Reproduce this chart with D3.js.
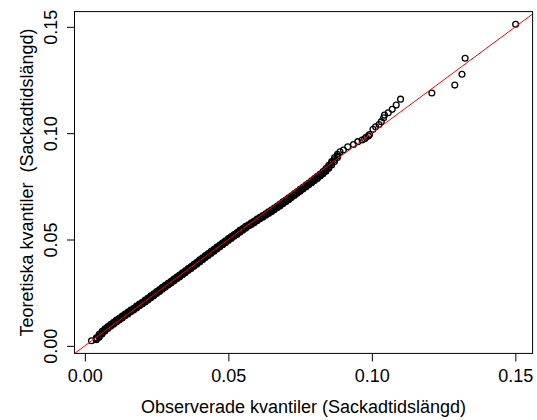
<!DOCTYPE html>
<html>
<head>
<meta charset="utf-8">
<script src="https://cdn.jsdelivr.net/npm/d3@7"></script>
<style>
  html, body { margin: 0; padding: 0; background: #fff; }
  svg { display: block; }
  text { font-family: "Liberation Sans", Arial, sans-serif; fill: #000; }
</style>
</head>
<body>
<svg id="chart" width="537" height="420"></svg>
<script>
// Saccade durations are recorded in whole milliseconds, so many observations tie.
// Each tied duration forms a short vertical run of theoretical quantiles
// (lowest, median and highest quantile of the run).
const tiedDurations = [
  0.004, 0.005, 0.006, 0.007, 0.008, 0.009, 0.010, 0.011, 0.012, 0.013,
  0.014, 0.015, 0.016, 0.017, 0.018, 0.019, 0.020, 0.021, 0.022, 0.023,
  0.024, 0.025, 0.026, 0.027, 0.028, 0.029, 0.030, 0.031, 0.032, 0.033,
  0.034, 0.035, 0.036, 0.037, 0.038, 0.039, 0.040, 0.041, 0.042, 0.043,
  0.044, 0.045, 0.046, 0.047, 0.048, 0.049, 0.050, 0.051, 0.052, 0.053,
  0.054, 0.055, 0.056, 0.057, 0.058, 0.059, 0.060, 0.061, 0.062, 0.063,
  0.064, 0.065, 0.066, 0.067, 0.068, 0.069, 0.070, 0.071, 0.072, 0.073,
  0.074, 0.075, 0.076, 0.077, 0.078, 0.079, 0.080, 0.081, 0.082, 0.083,
  0.084, 0.085, 0.086, 0.087, 0.088
];
const tiedQuantileLow = [
  0.0029, 0.0040, 0.0056, 0.0070, 0.0082, 0.0092, 0.0102, 0.0112, 0.0122, 0.0131,
  0.0141, 0.0150, 0.0160, 0.0169, 0.0178, 0.0188, 0.0197, 0.0206, 0.0216, 0.0226,
  0.0236, 0.0246, 0.0256, 0.0266, 0.0276, 0.0286, 0.0295, 0.0305, 0.0315, 0.0324,
  0.0334, 0.0344, 0.0354, 0.0364, 0.0374, 0.0384, 0.0394, 0.0405, 0.0415, 0.0425,
  0.0435, 0.0445, 0.0455, 0.0465, 0.0475, 0.0485, 0.0495, 0.0505, 0.0515, 0.0524,
  0.0534, 0.0544, 0.0553, 0.0563, 0.0570, 0.0579, 0.0588, 0.0597, 0.0605, 0.0614,
  0.0622, 0.0631, 0.0640, 0.0649, 0.0658, 0.0668, 0.0678, 0.0687, 0.0697, 0.0707,
  0.0717, 0.0727, 0.0737, 0.0747, 0.0757, 0.0767, 0.0777, 0.0787, 0.0798, 0.0809,
  0.0821, 0.0835, 0.0850, 0.0867, 0.0886
];
const tiedQuantileMid = [
  0.0033, 0.0047, 0.0062, 0.0075, 0.0086, 0.0096, 0.0106, 0.0116, 0.0126, 0.0135,
  0.0145, 0.0154, 0.0164, 0.0173, 0.0182, 0.0192, 0.0201, 0.0210, 0.0220, 0.0230,
  0.0240, 0.0250, 0.0260, 0.0270, 0.0280, 0.0290, 0.0299, 0.0309, 0.0319, 0.0328,
  0.0338, 0.0348, 0.0358, 0.0368, 0.0378, 0.0388, 0.0399, 0.0409, 0.0419, 0.0429,
  0.0439, 0.0449, 0.0459, 0.0469, 0.0479, 0.0489, 0.0499, 0.0509, 0.0519, 0.0528,
  0.0538, 0.0548, 0.0557, 0.0566, 0.0574, 0.0583, 0.0592, 0.0600, 0.0609, 0.0617,
  0.0626, 0.0635, 0.0644, 0.0653, 0.0662, 0.0672, 0.0682, 0.0691, 0.0701, 0.0711,
  0.0721, 0.0731, 0.0741, 0.0751, 0.0761, 0.0771, 0.0781, 0.0792, 0.0803, 0.0814,
  0.0827, 0.0842, 0.0858, 0.0876, 0.0893
];
const tiedQuantileHigh = [
  0.0038, 0.0054, 0.0068, 0.0080, 0.0091, 0.0101, 0.0111, 0.0121, 0.0130, 0.0140,
  0.0149, 0.0159, 0.0168, 0.0177, 0.0187, 0.0196, 0.0205, 0.0215, 0.0225, 0.0235,
  0.0245, 0.0255, 0.0265, 0.0275, 0.0285, 0.0294, 0.0304, 0.0314, 0.0323, 0.0333,
  0.0343, 0.0353, 0.0363, 0.0373, 0.0383, 0.0393, 0.0404, 0.0414, 0.0424, 0.0434,
  0.0444, 0.0454, 0.0464, 0.0474, 0.0484, 0.0494, 0.0504, 0.0514, 0.0523, 0.0533,
  0.0543, 0.0552, 0.0562, 0.0569, 0.0578, 0.0587, 0.0596, 0.0604, 0.0613, 0.0621,
  0.0630, 0.0639, 0.0648, 0.0657, 0.0667, 0.0677, 0.0686, 0.0696, 0.0706, 0.0716,
  0.0726, 0.0736, 0.0746, 0.0756, 0.0766, 0.0776, 0.0786, 0.0797, 0.0808, 0.0820,
  0.0834, 0.0849, 0.0866, 0.0885, 0.0901
];

// Untied observations: the shortest saccade and the long-duration tail.
const singleObserved = [
  0.0023,
  0.0889, 0.0901, 0.0916, 0.0936, 0.0951, 0.0966, 0.0975, 0.0980, 0.0988, 0.0992,
  0.1004, 0.1013, 0.1025, 0.1033, 0.1041, 0.1044, 0.1057, 0.1071, 0.1085, 0.1100,
  0.1209, 0.1289, 0.1314, 0.1325, 0.1501
];
const singleTheoretical = [
  0.0024,
  0.0912, 0.0921, 0.0936, 0.0947, 0.0960, 0.0968, 0.0974, 0.0981, 0.0987, 0.0994,
  0.1018, 0.1030, 0.1041, 0.1054, 0.1072, 0.1085, 0.1096, 0.1112, 0.1132, 0.1160,
  0.1189, 0.1226, 0.1277, 0.1352, 0.1512
];

const xTicks = [0, 0.05, 0.10, 0.15];
const yTicks = [0, 0.05, 0.10, 0.15];
const xTitle = "Observerade kvantiler (Sackadtidslängd)";
const yTitle = "Teoretiska kvantiler  (Sackadtidslängd)";

// Assemble the point list.
const points = [];
tiedDurations.forEach((d, i) => {
  points.push({ x: d, y: tiedQuantileLow[i] });
  points.push({ x: d, y: tiedQuantileMid[i] });
  points.push({ x: d, y: tiedQuantileHigh[i] });
});
singleObserved.forEach((d, i) => points.push({ x: d, y: singleTheoretical[i] }));

const W = 537, H = 420;
const margin = { top: 11.6, right: 4.4, bottom: 66.6, left: 74.5 };
const pw = W - margin.left - margin.right;
const ph = H - margin.top - margin.bottom;

// Axis ranges extended by 4% on each side of the data.
function padded(vals) {
  const [lo, hi] = d3.extent(vals);
  const pad = (hi - lo) * 0.04;
  return [lo - pad, hi + pad];
}
const x = d3.scaleLinear().domain(padded(points.map(p => p.x))).range([0, pw]);
const y = d3.scaleLinear().domain(padded(points.map(p => p.y))).range([ph, 0]);

const svg = d3.select("#chart");
const g = svg.append("g").attr("transform", `translate(${margin.left},${margin.top})`);

svg.append("defs").append("clipPath").attr("id", "plotClip")
  .append("rect").attr("width", pw).attr("height", ph);

// Points
g.append("g").attr("clip-path", "url(#plotClip)")
  .selectAll("circle").data(points).join("circle")
  .attr("cx", d => x(d.x))
  .attr("cy", d => y(d.y))
  .attr("r", 2.9)
  .attr("fill", "none")
  .attr("stroke", "#000")
  .attr("stroke-width", 1.3);

// Reference line y = x
const lineDom = [Math.min(x.domain()[0], y.domain()[0]), Math.max(x.domain()[1], y.domain()[1])];
g.append("line").attr("clip-path", "url(#plotClip)")
  .attr("x1", x(lineDom[0])).attr("y1", y(lineDom[0]))
  .attr("x2", x(lineDom[1])).attr("y2", y(lineDom[1]))
  .attr("stroke", "#ff0000").attr("stroke-width", 1);

// Box
g.append("rect").attr("x", 0).attr("y", 0).attr("width", pw).attr("height", ph)
  .attr("fill", "none").attr("stroke", "#000").attr("stroke-width", 1);

const fmt = d3.format(".2f");

// X axis
const xAxis = g.append("g").attr("transform", `translate(0,${ph})`)
  .call(d3.axisBottom(x).tickValues(xTicks).tickFormat(fmt).tickSize(8).tickPadding(8));
xAxis.select(".domain").remove();
xAxis.selectAll(".tick line").attr("stroke", "#000");
xAxis.selectAll("text").attr("font-size", 18).attr("font-family", "Liberation Sans, Arial, sans-serif")
  .attr("fill", "#000");

// Y axis
const yAxis = g.append("g")
  .call(d3.axisLeft(y).tickValues(yTicks).tickFormat(fmt).tickSize(7.5));
yAxis.select(".domain").remove();
yAxis.selectAll(".tick line").attr("stroke", "#000");
yAxis.selectAll("text")
  .attr("font-size", 18).attr("font-family", "Liberation Sans, Arial, sans-serif").attr("fill", "#000")
  .attr("x", null).attr("dy", null)
  .attr("text-anchor", "middle")
  .attr("transform", `translate(${56.7 - margin.left},0) rotate(-90)`);

// Titles
svg.append("text")
  .attr("x", margin.left + pw / 2).attr("y", 412.5)
  .attr("text-anchor", "middle").attr("font-size", 18)
  .text(xTitle);

svg.append("text")
  .attr("transform", `translate(33.3,${margin.top + ph / 2}) rotate(-90)`)
  .attr("text-anchor", "middle").attr("font-size", 18)
  .style("white-space", "pre")
  .text(yTitle);
</script>
</body>
</html>
